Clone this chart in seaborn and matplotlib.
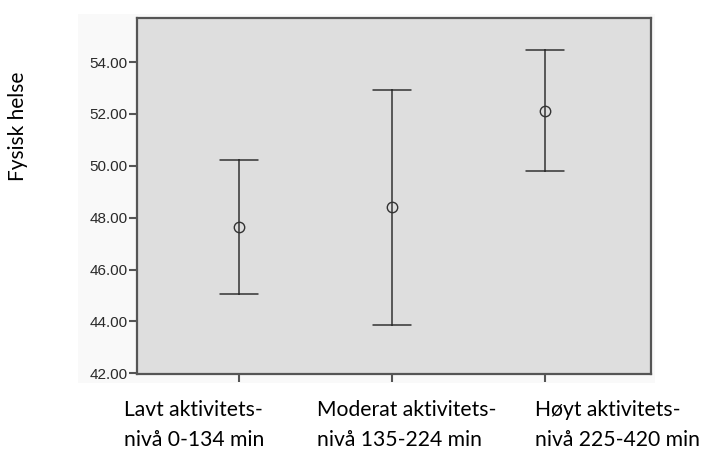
import pandas as pd
import seaborn as sns
import matplotlib.pyplot as plt
from matplotlib.patches import Rectangle

# Means with 95% CI bounds
groups = ["Lavt aktivitets-\nnivå 0-134 min",
          "Moderat aktivitets-\nnivå 135-224 min",
          "Høyt aktivitets-\nnivå 225-420 min"]
means = [47.65, 48.40, 52.13]
lower = [45.05, 43.85, 49.80]
upper = [50.22, 52.93, 54.47]
y_ticks = [42, 44, 46, 48, 50, 52, 54]

# long table: lower / mean / upper per group -> median = mean, full range = CI
rows = []
for g, lo, m, hi in zip(groups, lower, means, upper):
    for v in (lo, m, hi):
        rows.append({"group": g, "value": v})
df = pd.DataFrame(rows)

sns.set_style("white")
fig = plt.figure(figsize=(7.02, 4.51), dpi=100)
fig.patches.append(Rectangle((78 / 702, (451 - 383) / 451), (655 - 78) / 702, (383 - 14) / 451,
                             transform=fig.transFigure, facecolor="#f9f9f9",
                             edgecolor="none", zorder=-5))
ax = fig.add_axes([137 / 702, (451 - 374) / 451, (651 - 137) / 702, (374 - 18) / 451])
ax.set_zorder(2)
ax.set_facecolor("#dedede")

sns.pointplot(data=df, x="group", y="value", estimator="median",
              errorbar=("pi", 100), capsize=0.25, linestyle="none",
              color="#333333", markers="o", markersize=7.5,
              markerfacecolor="none", markeredgewidth=1.0,
              err_kws={"linewidth": 1.1}, ax=ax)

ax.set_xlim(-0.667, 2.69)
ax.set_ylim(41.97, 55.7)
ax.set_yticks(y_ticks)
ax.set_yticklabels([f"{t:.2f}" for t in y_ticks], fontsize=11,
                   family="Liberation Sans", color="#2a2a2a")
ax.set_xticks(range(len(groups)))
ax.set_xticklabels([])
ax.set_xlabel("")
ax.set_ylabel("")
ax.tick_params(axis="both", direction="out", length=6, width=1.5, color="#555555",
               left=True, bottom=True, pad=1)
for s in ax.spines.values():
    s.set_color("#555555")
    s.set_linewidth(1.6)

# category labels, left aligned text boxes below the axis
label_x = [124, 317, 535]
for x, g in zip(label_x, groups):
    fig.text(x / 702, 1 - 400 / 451, g, ha="left", va="top", fontsize=15.2,
             family="Lato", color="black", linespacing=1.65)

fig.text(18 / 702, 1 - 126 / 451, "Fysisk helse", rotation=90, ha="center",
         va="center", fontsize=15, family="Lato", color="black")

fig.savefig("out.png", dpi=100)
